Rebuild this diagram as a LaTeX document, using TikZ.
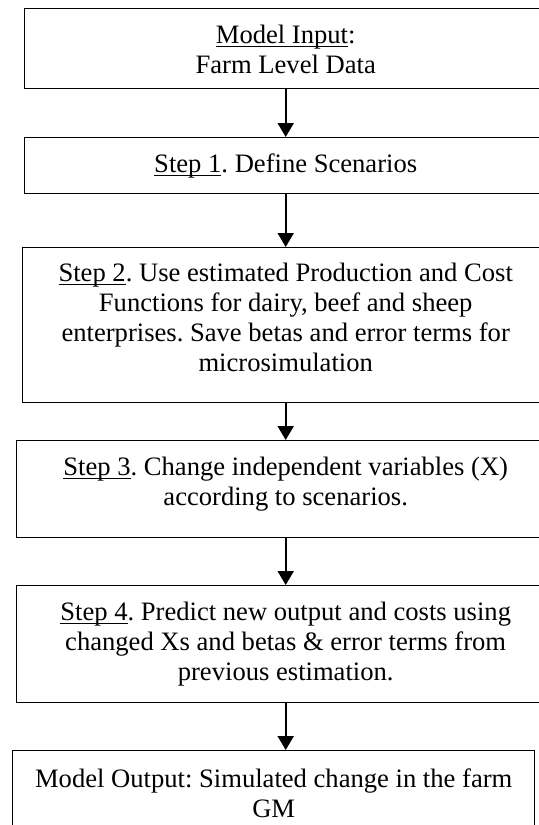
\documentclass[tikz,border=0pt]{standalone}
\usepackage{fontspec}
\setmainfont{Liberation Serif}
\usetikzlibrary{arrows.meta,calc}
\newcommand\ulin[1]{\setbox0\hbox{#1}\rlap{\rule[-1.7pt]{\wd0}{0.6pt}}\box0}
\frenchspacing
\begin{document}
\begin{tikzpicture}[x=0.5pt,y=-0.5pt,
  box/.style={draw, line width=0.7pt, inner sep=0pt, anchor=north west, rectangle},
  txt/.style={anchor=north, inner sep=0pt, align=center, font=\fontsize{13.3}{15}\selectfont},
  arr/.style={line width=1pt, -{Triangle[width=8pt,length=7pt]}}]
\useasboundingbox (0,0) rectangle (539,825);
\clip (0,0) rectangle (539,825);
\fill[white] (0,0) rectangle (539,825);
% boxes
\node[box, minimum width=261pt, minimum height=40pt]   (b1) at (24,8)   {};
\node[box, minimum width=261pt, minimum height=28pt]   (b2) at (24,137) {};
\node[box, minimum width=263pt, minimum height=77.5pt] (b3) at (22,247) {};
\node[box, minimum width=269pt, minimum height=48.5pt] (b4) at (16,440) {};
\node[box, minimum width=269pt, minimum height=58.5pt] (b5) at (16,585) {};
\node[box, minimum width=261pt, minimum height=50pt]   (b6) at (12,750) {};
% texts
\node[txt] (t1) at ($(b1.north)+(0,14)$) {\strut\ulin{Model Input}:\\Farm Level Data};
\node[txt] (t2) at ($(b2.north)+(0,14)$) {\strut\ulin{Step 1}. Define Scenarios};
\node[txt] (t3) at ($(b3.north)+(0,13)$) {\strut\ulin{Step 2}. Use estimated Production and Cost\\Functions for dairy, beef and sheep\\enterprises. Save betas and error terms for\\microsimulation};
\node[txt] (t4) at ($(b4.north)+(0,14)$) {\strut\ulin{Step 3}. Change independent variables (X)\\according to scenarios.};
\node[txt] (t5) at ($(b5.north)+(0,14)$) {\strut\ulin{Step 4}. Predict new output and costs using\\changed Xs and betas \& error terms from\\previous estimation.};
\node[txt] (t6) at ($(b6.north)+(0,16)$) {\strut Model Output: Simulated change in the farm\\GM};
% arrows
\draw[arr] (b1.south) -- (b2.north);
\draw[arr] (b2.south) -- (b3.north);
\draw[arr] (b3.south) -- (b4.north);
\draw[arr] (b4.south) -- (b5.north);
\draw[arr] (b5.south) -- (b5.south |- b6.north);
\end{tikzpicture}
\end{document}
